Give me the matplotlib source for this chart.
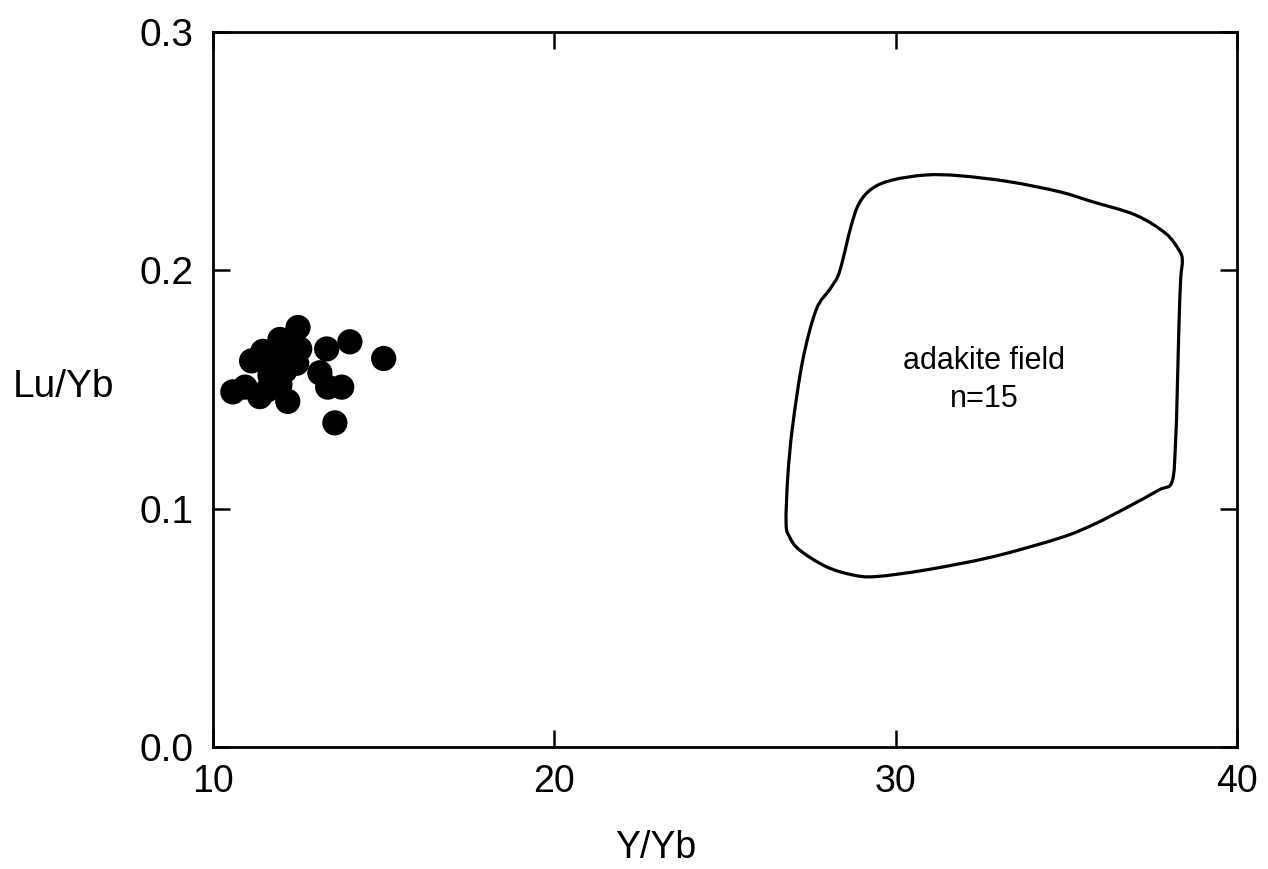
import matplotlib
matplotlib.use("Agg")
import matplotlib.pyplot as plt
from matplotlib.patches import PathPatch
from matplotlib.path import Path

plt.rcParams['font.family'] = ['Liberation Sans', 'DejaVu Sans']

# samples (Y/Yb vs Lu/Yb)
y_yb = [10.58, 10.94, 11.13, 11.46, 11.37, 11.61, 11.67, 11.81, 11.96, 11.96, 12.11,
        12.19, 12.25, 12.49, 12.54, 13.13, 13.33, 13.36, 13.57, 13.77, 14.01, 15.0,
        12.2, 12.45]
lu_yb = [0.149, 0.151, 0.162, 0.166, 0.147, 0.150, 0.156, 0.162, 0.171, 0.152, 0.158,
         0.145, 0.165, 0.176, 0.167, 0.157, 0.167, 0.151, 0.136, 0.151, 0.170, 0.163,
         0.170, 0.161]

# adakite field outline
field_x = [26.79, 26.84, 26.98, 27.28, 27.67, 28.06, 28.30, 28.45, 28.69, 28.93, 29.32,
           29.91, 30.89, 31.86, 33.32, 34.79, 35.76, 37.03, 37.91, 38.30, 38.40, 38.35,
           38.30, 38.25, 38.20, 38.10, 37.71, 36.74, 35.76, 34.79, 32.84, 30.89, 29.42,
           28.74, 27.96, 27.18, 26.89]
field_y = [0.0939, 0.1134, 0.1344, 0.1624, 0.1834, 0.1918, 0.1973, 0.2043, 0.2183, 0.2281,
           0.2344, 0.2379, 0.2400, 0.2397, 0.2372, 0.2330, 0.2288, 0.2232, 0.2155, 0.2085,
           0.2043, 0.1959, 0.1764, 0.1484, 0.1274, 0.1113, 0.1078, 0.1002, 0.0931, 0.0876,
           0.0798, 0.0743, 0.0715, 0.0722, 0.0757, 0.0827, 0.0882]

xticks = [10, 20, 30, 40]
yticks = [0.0, 0.1, 0.2, 0.3]


def smoothOutline(xs, ys):
    # closed catmull-rom through the traced points, as cubic bezier pieces
    n = len(xs)
    verts = [(xs[0], ys[0])]
    codes = [Path.MOVETO]
    for i in range(n):
        p0 = (xs[i - 1], ys[i - 1])
        p1 = (xs[i], ys[i])
        p2 = (xs[(i + 1) % n], ys[(i + 1) % n])
        p3 = (xs[(i + 2) % n], ys[(i + 2) % n])
        c1 = (p1[0] + (p2[0] - p0[0]) / 6, p1[1] + (p2[1] - p0[1]) / 6)
        c2 = (p2[0] - (p3[0] - p1[0]) / 6, p2[1] - (p3[1] - p1[1]) / 6)
        verts += [c1, c2, p2]
        codes += [Path.CURVE4] * 3
    return Path(verts, codes)


fig = plt.figure(figsize=(12.68, 8.69), dpi=100)
ax = fig.add_axes([0.168, 0.1404, 0.8075, 0.8228])

ax.add_patch(PathPatch(smoothOutline(field_x, field_y), fill=False,
                       edgecolor='black', linewidth=2.3, joinstyle='round'))
ax.scatter(y_yb, lu_yb, s=330, color='black', edgecolors='none', zorder=3)

ax.text(32.6, 0.162, 'adakite field', ha='center', va='center', fontsize=22)
ax.text(32.6, 0.146, 'n=15', ha='center', va='center', fontsize=22)

ax.set_xlim(10, 40)
ax.set_ylim(0, 0.3)
ax.set_xticks(xticks)
ax.set_yticks(yticks)
ax.set_xticklabels([str(v) for v in xticks])
ax.set_yticklabels(['%.1f' % v for v in yticks])
ax.tick_params(direction='in', length=12, width=1.8, top=True, right=True)
ax.tick_params(axis='x', pad=12, labelsize=27)
ax.tick_params(axis='y', pad=14, labelsize=28)
for sp in ax.spines.values():
    sp.set_linewidth(2)

ax.set_xlabel('Y/Yb', fontsize=27, va='center')
ax.xaxis.set_label_coords(0.432, -0.141)
ax.set_ylabel('Lu/Yb', fontsize=28, rotation=0, va='center', ha='center')
ax.yaxis.set_label_coords(-0.146, 0.503)

fig.savefig('out.png', dpi=100)
